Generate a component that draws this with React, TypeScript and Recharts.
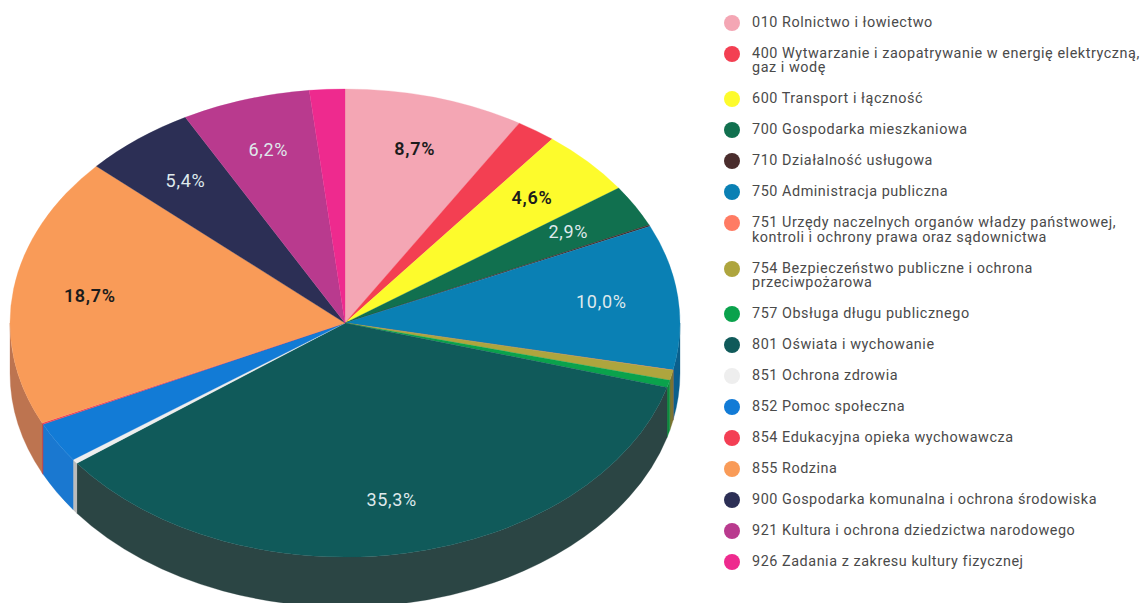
import React from "react";
import { PieChart, Pie, Legend } from "recharts";

const names = [
  "010 Rolnictwo i łowiectwo",
  "400 Wytwarzanie i zaopatrywanie w energię elektryczną, gaz i wodę",
  "600 Transport i łączność",
  "700 Gospodarka mieszkaniowa",
  "710 Działalność usługowa",
  "750 Administracja publiczna",
  "751 Urzędy naczelnych organów władzy państwowej, kontroli i ochrony prawa oraz sądownictwa",
  "754 Bezpieczeństwo publiczne i ochrona przeciwpożarowa",
  "757 Obsługa długu publicznego",
  "801 Oświata i wychowanie",
  "851 Ochrona zdrowia",
  "852 Pomoc społeczna",
  "854 Edukacyjna opieka wychowawcza",
  "855 Rodzina",
  "900 Gospodarka komunalna i ochrona środowiska",
  "921 Kultura i ochrona dziedzictwa narodowego",
  "926 Zadania z zakresu kultury fizycznej",
];
const values = [8.7, 1.9, 4.6, 2.9, 0.1, 10.0, 0.01, 0.7, 0.5, 35.3, 0.3, 2.8, 0.1, 18.7, 5.4, 6.2, 1.7];
const fills = [
  "#f4a6b4", "#f33f52", "#fdfb2c", "#11704f", "#4a2d2d", "#0a80b4", "#ff7b63", "#aea53e", "#0aa24c",
  "#105a5a", "#eeeeee", "#127bd6", "#f33f54", "#f99b58", "#2c2f55", "#b93a8e", "#ee2a8e",
];
const sides = [
  "#c08591", "#b83040", "#bdbb20", "#0c523a", "#382222", "#0b5f8c", "#bf5c4a", "#7a7432", "#0b8a3c",
  "#2b4544", "#bbbbbb", "#1a78d0", "#b8303f", "#bd7450", "#20233f", "#8b2c6b", "#b3206b",
];
const darkLabelIdx = [0, 2, 13];
const unlabeledBelow = 2.85;

const rows = names.map((name, i) => ({ name, value: values[i], fill: fills[i], side: sides[i], idx: i }));

const SQUASH = 234 / 335;
const DEPTH = 50;
const LABEL_R = 0.77;
const RAD = Math.PI / 180;

function pt(cx: number, cy: number, r: number, deg: number, dy = 0) {
  return [cx + r * Math.cos(deg * RAD), cy - r * SQUASH * Math.sin(deg * RAD) + dy];
}

function EllipseSlice(props: any) {
  const { cx, cy, outerRadius: r, startAngle, endAngle, fill } = props;
  const side = props.side ?? props.payload?.side ?? fill;
  const ry = r * SQUASH;
  const [x0, y0] = pt(cx, cy, r, startAngle);
  const [x1, y1] = pt(cx, cy, r, endAngle);
  const large = startAngle - endAngle > 180 ? 1 : 0;
  const top = `M${cx},${cy}L${x0},${y0}A${r},${ry} 0 ${large} 1 ${x1},${y1}Z`;
  const a1 = Math.min(startAngle, 0);
  const a2 = Math.max(endAngle, -180);
  let wall: string | null = null;
  if (a1 > a2) {
    const [sx, sy] = pt(cx, cy, r, a1);
    const [ex, ey] = pt(cx, cy, r, a2);
    const lg = a1 - a2 > 180 ? 1 : 0;
    wall = `M${sx},${sy}A${r},${ry} 0 ${lg} 1 ${ex},${ey}L${ex},${ey + DEPTH}A${r},${ry} 0 ${lg} 0 ${sx},${sy + DEPTH}Z`;
  }
  return (
    <g>
      {wall && <path d={wall} fill={side} stroke={side} strokeWidth={0.3} />}
      <path d={top} fill={fill} stroke={fill} strokeWidth={0.3} />
    </g>
  );
}

function SliceLabel(props: any) {
  const { cx, cy, midAngle, outerRadius, value, index } = props;
  if (value < unlabeledBelow) return null;
  const [x, y] = pt(cx, cy, outerRadius * LABEL_R, midAngle);
  const dark = darkLabelIdx.includes(index);
  return (
    <text
      x={x}
      y={y - 1}
      textAnchor="middle"
      dominantBaseline="central"
      fontFamily="Roboto"
      fontSize={18}
      letterSpacing={0.7}
      fontWeight={dark ? 600 : 400}
      fill={dark ? "#1c1c1c" : "#dfe9ec"}
    >
      {value.toFixed(1).replace(".", ",") + "%"}
    </text>
  );
}

function LegendList(props: any) {
  const items = props.payload ?? [];
  return (
    <div style={{ fontFamily: "Roboto", fontSize: 14.4, lineHeight: "14.5px", color: "#4a4a4a", letterSpacing: 0.55 }}>
      {items.map((it: any, i: number) => (
        <div key={i} style={{ display: "flex", alignItems: "flex-start", paddingBottom: 16.5 }}>
          <span
            style={{
              width: 16,
              height: 16,
              borderRadius: 8,
              background: it.color,
              flex: "none",
              marginRight: 12,
              marginTop: -1,
              marginBottom: -2,
            }}
          />
          <span style={{ maxWidth: 391 }}>{it.value}</span>
        </div>
      ))}
    </div>
  );
}

export default function App() {
  return (
    <div style={{ position: "absolute", left: 0, top: 0, width: 1142, height: 603, overflow: "hidden", background: "#fff" }}>
      <PieChart width={1142} height={603} margin={{ top: 0, right: 0, bottom: 0, left: 0 }}>
        <Pie
          data={rows}
          dataKey="value"
          nameKey="name"
          cx={345}
          cy={323}
          outerRadius={335}
          startAngle={90}
          endAngle={-270}
          paddingAngle={0}
          stroke="none"
          isAnimationActive={false}
          labelLine={false}
          label={SliceLabel}
          shape={EllipseSlice}
        />
        <Legend
          content={LegendList}
          layout="vertical"
          verticalAlign="top"
          align="right"
          wrapperStyle={{ left: 724, right: "auto", top: 15.5, width: 418 }}
        />
      </PieChart>
    </div>
  );
}
